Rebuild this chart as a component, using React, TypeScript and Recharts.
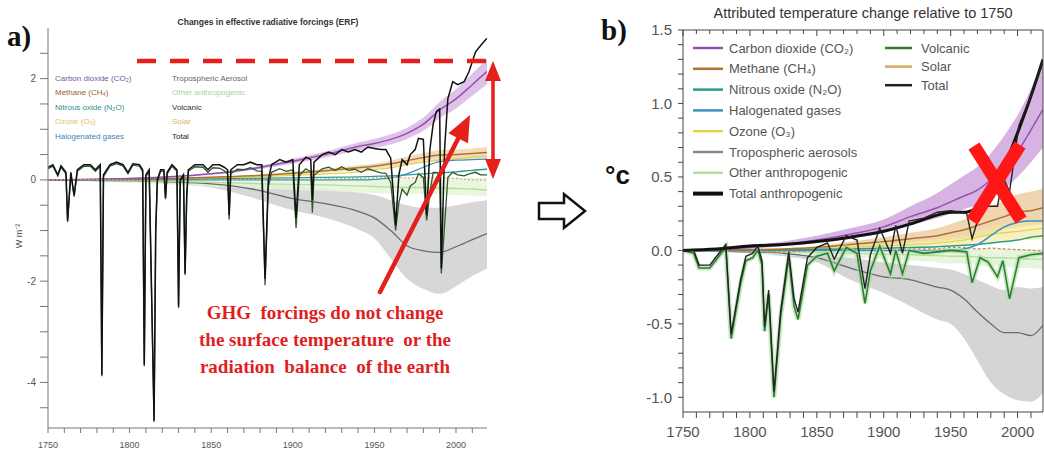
import React from "react";
import { ComposedChart, Line, Area, XAxis, YAxis } from "recharts";

// sample years for the smooth (forcing / attributed warming) curves
const smoothYears = [1750, 1775, 1800, 1825, 1850, 1875, 1900, 1920, 1940, 1950, 1960, 1970, 1980, 1990, 2000, 2010, 2019];

// a) effective radiative forcing, W m-2
const erfCO2 = [0, 0.01, 0.03, 0.06, 0.12, 0.22, 0.37, 0.5, 0.66, 0.72, 0.8, 0.92, 1.1, 1.38, 1.6, 1.88, 2.14];
const erfCO2Lo = [0, 0.01, 0.02, 0.05, 0.1, 0.19, 0.32, 0.44, 0.58, 0.63, 0.7, 0.81, 0.97, 1.22, 1.41, 1.66, 1.89];
const erfCO2Hi = [0, 0.01, 0.04, 0.07, 0.14, 0.25, 0.42, 0.56, 0.74, 0.81, 0.9, 1.03, 1.23, 1.54, 1.79, 2.1, 2.39];
const erfCH4 = [0, 0.01, 0.02, 0.03, 0.05, 0.08, 0.13, 0.18, 0.24, 0.27, 0.32, 0.38, 0.44, 0.49, 0.5, 0.52, 0.54];
const erfCH4Lo = [0, 0.01, 0.02, 0.02, 0.04, 0.06, 0.1, 0.14, 0.19, 0.22, 0.26, 0.3, 0.35, 0.39, 0.4, 0.42, 0.43];
const erfCH4Hi = [0, 0.01, 0.02, 0.04, 0.06, 0.1, 0.16, 0.22, 0.29, 0.32, 0.38, 0.46, 0.53, 0.59, 0.6, 0.62, 0.65];
const erfN2O = [0, 0, 0.01, 0.01, 0.02, 0.03, 0.04, 0.05, 0.06, 0.07, 0.08, 0.1, 0.12, 0.14, 0.16, 0.19, 0.21];
const erfHalo = [0, 0, 0, 0, 0, 0, 0, 0, 0, 0.01, 0.04, 0.12, 0.25, 0.36, 0.39, 0.4, 0.41];
const erfO3 = [0, 0.01, 0.02, 0.03, 0.04, 0.06, 0.09, 0.12, 0.16, 0.2, 0.24, 0.3, 0.35, 0.39, 0.42, 0.45, 0.47];
const erfAer = [0, -0.01, -0.02, -0.04, -0.08, -0.18, -0.37, -0.47, -0.62, -0.75, -1.0, -1.3, -1.4, -1.43, -1.32, -1.18, -1.06];
const erfAerLo = [0, -0.02, -0.04, -0.08, -0.15, -0.35, -0.6, -0.75, -0.98, -1.15, -1.55, -1.95, -2.15, -2.25, -2.1, -1.9, -1.75];
const erfAerHi = [0, 0, -0.01, -0.01, -0.03, -0.06, -0.12, -0.17, -0.25, -0.3, -0.4, -0.5, -0.55, -0.55, -0.5, -0.44, -0.4];
const erfOther = [0, -0.01, -0.02, -0.03, -0.05, -0.07, -0.09, -0.1, -0.12, -0.13, -0.14, -0.15, -0.15, -0.16, -0.17, -0.18, -0.2];
const erfOtherLo = [0, -0.03, -0.06, -0.09, -0.13, -0.17, -0.2, -0.22, -0.25, -0.26, -0.27, -0.28, -0.28, -0.29, -0.3, -0.31, -0.33];
const erfOtherHi = [0, 0.01, 0.02, 0.02, 0.02, 0.02, 0.02, 0.02, 0.02, 0.02, 0.03, 0.03, 0.04, 0.04, 0.04, 0.04, 0.04];
const erfSolar = [0, 0.01, -0.01, -0.02, 0, 0.01, 0, 0.02, 0.03, 0.04, 0.05, 0.04, 0.05, 0.04, 0.03, 0, 0];

// a) volcanic and total forcing, with the eruption years
const spikeYearsA = [
  1750, 1753, 1756, 1758, 1761, 1762, 1764, 1766, 1768, 1772, 1776, 1779, 1782, 1783, 1784, 1788, 1792, 1796, 1799,
  1802, 1806, 1808, 1809, 1810, 1812, 1815, 1816, 1817, 1819, 1821, 1822, 1823, 1826, 1829, 1830, 1831, 1833, 1834,
  1835, 1836, 1840, 1845, 1848, 1851, 1855, 1858, 1860, 1861, 1862, 1866, 1870, 1874, 1878, 1881, 1883, 1885, 1887,
  1892, 1896, 1900, 1902, 1904, 1908, 1911, 1912, 1913, 1918, 1922, 1926, 1930, 1934, 1938, 1942, 1946, 1950, 1954,
  1957, 1960, 1963, 1965, 1967, 1970, 1972, 1975, 1977, 1980, 1982, 1984, 1986, 1988, 1990, 1991, 1993, 1995, 1998,
  2001, 2005, 2008, 2012, 2015, 2019,
];
const erfTotal = [
  0.25, 0.3, 0.1, 0.28, 0.15, -0.8, 0.15, -0.3, 0.2, 0.3, 0.3, 0.2, 0.3, -3.85, 0.1, 0.3, 0.35, 0.3, 0.15,
  0.32, 0.3, 0.2, -3.65, 0.1, 0.2, -4.75, -1.0, 0.0, 0.2, 0.2, -0.35, 0.15, 0.3, 0.2, -2.5, 0.0, 0.1, -1.85,
  -0.3, 0.2, 0.3, 0.3, 0.2, 0.3, 0.3, 0.25, 0.2, -0.7, 0.2, 0.3, 0.3, 0.35, 0.3, 0.3, -1.95, 0.0, 0.3,
  0.4, 0.35, 0.4, -0.75, 0.3, 0.45, 0.4, -0.4, 0.35, 0.5, 0.55, 0.5, 0.6, 0.55, 0.6, 0.55, 0.65, 0.62, 0.6,
  0.6, 0.43, -0.9, 0.1, 0.4, 0.3, 0.5, 0.6, 0.82, 0.8, -0.7, 0.6, 1.1, 1.35, 1.4, -1.75, 0.6, 1.6, 1.94,
  1.88, 1.94, 2.14, 2.53, 2.65, 2.8,
];
const erfVolcanic = [
  0.22, 0.27, 0.08, 0.25, 0.12, -0.83, 0.12, -0.33, 0.17, 0.27, 0.27, 0.17, 0.27, -3.88, 0.07, 0.27, 0.32, 0.27, 0.12,
  0.29, 0.27, 0.17, -3.68, 0.07, 0.17, -4.78, -1.03, -0.03, 0.17, 0.17, -0.38, 0.12, 0.27, 0.17, -2.53, -0.03, 0.07, -1.88,
  -0.33, 0.17, 0.26, 0.25, 0.15, 0.24, 0.23, 0.18, 0.12, -0.78, 0.12, 0.21, 0.2, 0.24, 0.18, 0.17, -2.08, -0.14, 0.15,
  0.22, 0.17, 0.2, -0.95, 0.09, 0.22, 0.16, -0.65, 0.09, 0.22, 0.25, 0.19, 0.26, 0.19, 0.21, 0.15, 0.22, 0.18, 0.14,
  0.13, -0.05, -1.0, -0.45, -0.18, -0.3, -0.12, -0.05, 0.12, 0.05, -0.8, -0.25, 0.15, 0.15, 0.12, -1.85, -0.9, 0.05, 0.15,
  0.1, 0.08, 0.12, 0.15, 0.1, 0.1,
];

// b) attributed temperature change, degC
const tCO2 = [0, 0.005, 0.02, 0.04, 0.07, 0.11, 0.16, 0.23, 0.29, 0.33, 0.37, 0.41, 0.48, 0.56, 0.67, 0.82, 0.96];
const tCO2Lo = [0, 0.003, 0.01, 0.03, 0.05, 0.08, 0.12, 0.17, 0.22, 0.25, 0.28, 0.31, 0.36, 0.42, 0.5, 0.6, 0.7];
const tCO2Hi = [0, 0.008, 0.03, 0.06, 0.1, 0.15, 0.21, 0.3, 0.39, 0.45, 0.51, 0.57, 0.66, 0.78, 0.92, 1.1, 1.3];
const tCH4 = [0, 0.002, 0.005, 0.01, 0.02, 0.04, 0.06, 0.08, 0.1, 0.12, 0.14, 0.17, 0.2, 0.23, 0.26, 0.27, 0.29];
const tCH4Lo = [0, 0.001, 0.003, 0.006, 0.01, 0.02, 0.03, 0.05, 0.06, 0.07, 0.08, 0.1, 0.12, 0.14, 0.16, 0.17, 0.18];
const tCH4Hi = [0, 0.004, 0.008, 0.015, 0.03, 0.06, 0.09, 0.12, 0.15, 0.18, 0.21, 0.25, 0.3, 0.34, 0.38, 0.4, 0.42];
const tN2O = [0, 0, 0.002, 0.004, 0.007, 0.01, 0.015, 0.02, 0.025, 0.03, 0.035, 0.04, 0.05, 0.06, 0.07, 0.09, 0.1];
const tHalo = [0, 0, 0, 0, 0, 0, 0, 0, 0, 0.003, 0.01, 0.04, 0.1, 0.16, 0.19, 0.2, 0.2];
const tO3 = [0, 0.002, 0.005, 0.008, 0.012, 0.02, 0.03, 0.04, 0.05, 0.06, 0.07, 0.09, 0.11, 0.12, 0.13, 0.14, 0.15];
const tO3Lo = [0, 0.001, 0.002, 0.004, 0.006, 0.01, 0.015, 0.02, 0.025, 0.03, 0.035, 0.045, 0.055, 0.06, 0.065, 0.07, 0.075];
const tO3Hi = [0, 0.003, 0.008, 0.012, 0.018, 0.03, 0.045, 0.06, 0.075, 0.09, 0.1, 0.13, 0.16, 0.18, 0.19, 0.2, 0.21];
const tAer = [0, -0.005, -0.01, -0.02, -0.05, -0.12, -0.18, -0.2, -0.25, -0.27, -0.33, -0.42, -0.5, -0.56, -0.56, -0.58, -0.51];
const tAerLo = [0, -0.008, -0.02, -0.04, -0.08, -0.2, -0.29, -0.38, -0.47, -0.5, -0.6, -0.75, -0.9, -0.98, -1.02, -1.03, -0.97];
const tAerHi = [0, -0.002, -0.005, -0.01, -0.02, -0.05, -0.08, -0.1, -0.12, -0.13, -0.16, -0.2, -0.24, -0.27, -0.25, -0.26, -0.25];
const tOther = [0, -0.002, -0.005, -0.01, -0.015, -0.02, -0.025, -0.03, -0.035, -0.04, -0.04, -0.045, -0.05, -0.05, -0.055, -0.06, -0.06];
const tOtherLo = [0, -0.01, -0.02, -0.03, -0.04, -0.05, -0.06, -0.07, -0.08, -0.09, -0.09, -0.1, -0.11, -0.11, -0.12, -0.12, -0.13];
const tOtherHi = [0, 0.003, 0.005, 0.005, 0.005, 0.005, 0.005, 0.005, 0.005, 0.005, 0.01, 0.01, 0.01, 0.01, 0.01, 0.01, 0.01];
const tSolar = [0, 0.005, -0.01, -0.01, 0, 0.005, 0, 0.01, 0.01, 0.02, 0.02, 0.01, 0.015, 0.01, 0.005, 0, -0.005];
const tAnthro = [0, 0.01, 0.03, 0.04, 0.06, 0.09, 0.13, 0.18, 0.24, 0.26, 0.26, 0.29, 0.38, 0.57, 0.8, 1.05, 1.3];

// b) volcanic and total response
const spikeYearsB = [
  1750, 1758, 1762, 1770, 1776, 1782, 1786, 1793, 1797, 1802, 1806, 1809, 1811, 1814, 1818, 1823, 1829, 1833, 1836,
  1843, 1850, 1858, 1863, 1872, 1880, 1886, 1890, 1897, 1905, 1909, 1914, 1919, 1930, 1940, 1950, 1962, 1966, 1972,
  1978, 1985, 1989, 1994, 2001, 2010, 2019,
];
const tVolcanic = [
  0, -0.02, -0.12, -0.12, -0.05, 0.02, -0.6, -0.23, -0.07, -0.05, 0.0, -0.1, -0.55, -0.3, -1.0, -0.45, -0.05, -0.38, -0.47,
  -0.1, -0.04, -0.02, -0.14, 0.02, -0.02, -0.36, -0.14, 0.03, -0.16, 0.0, -0.16, 0.0, -0.02, -0.01, 0.0, -0.01, -0.22, -0.05,
  -0.08, -0.18, -0.07, -0.33, -0.05, -0.03, -0.02,
];
const tTotal = [
  0, 0.0, -0.1, -0.1, -0.03, 0.04, -0.57, -0.2, -0.04, -0.02, 0.03, -0.07, -0.52, -0.27, -0.96, -0.41, -0.01, -0.33, -0.42,
  -0.05, 0.02, 0.05, -0.06, 0.1, 0.07, -0.26, -0.03, 0.15, -0.02, 0.17, -0.02, 0.2, 0.22, 0.26, 0.27, 0.25, 0.08, 0.26,
  0.3, 0.3, 0.5, 0.4, 0.85, 1.05, 1.3,
];

const leftRows = smoothYears.map((year, i) => ({
  year,
  co2: erfCO2[i],
  co2Band: [erfCO2Lo[i], erfCO2Hi[i]],
  ch4: erfCH4[i],
  ch4Band: [erfCH4Lo[i], erfCH4Hi[i]],
  n2o: erfN2O[i],
  halo: erfHalo[i],
  o3: erfO3[i],
  aer: erfAer[i],
  aerBand: [erfAerLo[i], erfAerHi[i]],
  other: erfOther[i],
  otherBand: [erfOtherLo[i], erfOtherHi[i]],
  solar: erfSolar[i],
}));
const leftSpikeRows = spikeYearsA.map((year, i) => ({ year, total: erfTotal[i], volcanic: erfVolcanic[i] }));

const rightRows = smoothYears.map((year, i) => ({
  year,
  co2: tCO2[i],
  co2Band: [tCO2Lo[i], tCO2Hi[i]],
  ch4: tCH4[i],
  ch4Band: [tCH4Lo[i], tCH4Hi[i]],
  n2o: tN2O[i],
  halo: tHalo[i],
  o3: tO3[i],
  o3Band: [tO3Lo[i], tO3Hi[i]],
  aer: tAer[i],
  aerBand: [tAerLo[i], tAerHi[i]],
  other: tOther[i],
  otherBand: [tOtherLo[i], tOtherHi[i]],
  solar: tSolar[i],
  anthro: tAnthro[i],
}));
const rightSpikeRows = spikeYearsB.map((year, i) => ({ year, total: tTotal[i], volcanic: tVolcanic[i] }));

const yearTicks = Array.from({ length: 27 }, (_, i) => 1750 + i * 10);
const leftYTicks = Array.from({ length: 15 }, (_, i) => -4.5 + i * 0.5);
const rightYTicks = Array.from({ length: 26 }, (_, i) => Math.round((-1.0 + i * 0.1) * 10) / 10);

const C = {
  co2: "#9550b0",
  co2Band: "#c99ad9",
  ch4: "#b0722e",
  ch4Band: "#e9c58e",
  n2o: "#2b9c8c",
  halo: "#3d8fc2",
  o3: "#e6d24a",
  aer: "#6a6a6a",
  aerBand: "#d3d3d3",
  other: "#b5de9c",
  otherBand: "#e4f4d8",
  volc: "#2e7d32",
  solar: "#d4a860",
};

const sans = "'Liberation Sans', Arial, sans-serif";
const serif = "'Liberation Serif', 'Times New Roman', serif";

const yearLabel = (v: number) => (v % 50 === 0 ? String(v) : "");

function ForcingChart() {
  return (
    <ComposedChart width={500} height={457} margin={{ top: 28, right: 13, bottom: 5, left: 8 }}>
      <XAxis
        type="number"
        dataKey="year"
        domain={[1750, 2019]}
        allowDataOverflow
        ticks={yearTicks}
        interval={0}
        tickFormatter={yearLabel}
        height={24}
        tickSize={5}
        tickMargin={9}
        stroke="#777"
        tick={{ fontSize: 9, fill: "#555", fontFamily: sans }}
      />
      <YAxis
        type="number"
        domain={[-4.9, 3]}
        allowDataOverflow
        ticks={leftYTicks}
        interval={0}
        tickFormatter={(v: number) => (Number.isInteger(v) && v % 2 === 0 ? String(v) : "")}
        width={40}
        tickSize={8}
        tickMargin={4}
        stroke="#777"
        tick={{ fontSize: 10, fill: "#555", fontFamily: sans }}
      />
      <Area data={leftRows} dataKey="aerBand" type="monotone" stroke="none" fill={C.aerBand} fillOpacity={0.9} isAnimationActive={false} />
      <Area data={leftRows} dataKey="otherBand" type="monotone" stroke="none" fill={C.otherBand} fillOpacity={0.8} isAnimationActive={false} />
      <Area data={leftRows} dataKey="co2Band" type="monotone" stroke="none" fill={C.co2Band} fillOpacity={0.6} isAnimationActive={false} />
      <Area data={leftRows} dataKey="ch4Band" type="monotone" stroke="none" fill={C.ch4Band} fillOpacity={0.6} isAnimationActive={false} />
      <Line data={leftRows} dataKey="aer" type="monotone" stroke={C.aer} strokeWidth={1.3} dot={false} isAnimationActive={false} />
      <Line data={leftRows} dataKey="other" type="monotone" stroke={C.other} strokeWidth={1.3} dot={false} isAnimationActive={false} />
      <Line data={leftRows} dataKey="o3" type="monotone" stroke={C.o3} strokeWidth={1.3} dot={false} isAnimationActive={false} />
      <Line data={leftRows} dataKey="n2o" type="monotone" stroke={C.n2o} strokeWidth={1.3} dot={false} isAnimationActive={false} />
      <Line data={leftRows} dataKey="halo" type="monotone" stroke={C.halo} strokeWidth={1.3} dot={false} isAnimationActive={false} />
      <Line data={leftRows} dataKey="ch4" type="monotone" stroke={C.ch4} strokeWidth={1.5} dot={false} isAnimationActive={false} />
      <Line data={leftRows} dataKey="co2" type="monotone" stroke={C.co2} strokeWidth={1.5} dot={false} isAnimationActive={false} />
      <Line data={leftRows} dataKey="solar" type="monotone" stroke={C.solar} strokeWidth={1.2} strokeDasharray="2 2" dot={false} isAnimationActive={false} />
      <Line data={leftSpikeRows} dataKey="volcanic" type="linear" stroke="#2f5a2f" strokeWidth={1.3} dot={false} isAnimationActive={false} />
      <Line data={leftSpikeRows} dataKey="total" type="linear" stroke="#111" strokeWidth={1.5} dot={false} isAnimationActive={false} />
    </ComposedChart>
  );
}

const TopTick = (props: any) => {
  const { x, payload } = props;
  const len = payload.value % 50 === 0 ? 6 : 4;
  return <line x1={x} x2={x} y1={30} y2={30 + len} stroke="#444" strokeWidth={1} />;
};

function TemperatureChart() {
  return (
    <ComposedChart width={444} height={457} margin={{ top: 0, right: 0, bottom: 15, left: 0 }}>
      <XAxis
        type="number"
        dataKey="year"
        domain={[1750, 2019]}
        allowDataOverflow
        ticks={yearTicks}
        interval={0}
        tickFormatter={yearLabel}
        height={30}
        tickSize={6}
        tickMargin={8}
        stroke="#444"
        tick={{ fontSize: 15, fill: "#555", fontFamily: sans }}
      />
      <XAxis
        xAxisId="top"
        orientation="top"
        type="number"
        dataKey="year"
        domain={[1750, 2019]}
        allowDataOverflow
        ticks={yearTicks}
        interval={0}
        height={30}
        tickLine={false}
        stroke="#444"
        tick={<TopTick />}
      />
      <YAxis
        type="number"
        domain={[-1.1, 1.5]}
        allowDataOverflow
        ticks={rightYTicks}
        interval={0}
        tickFormatter={(v: number) => (Math.abs(v * 2 - Math.round(v * 2)) < 1e-6 ? v.toFixed(1) : "")}
        width={83}
        tickSize={5}
        tickMargin={6}
        stroke="#444"
        tick={{ fontSize: 15, fill: "#555", fontFamily: sans }}
      />
      <YAxis yAxisId="right" orientation="right" type="number" domain={[-1.1, 1.5]} width={1} tick={false} tickLine={false} stroke="#444" />
      <Area data={rightRows} dataKey="aerBand" type="monotone" stroke="none" fill={C.aerBand} fillOpacity={0.95} isAnimationActive={false} />
      <Area data={rightRows} dataKey="otherBand" type="monotone" stroke="none" fill={C.otherBand} fillOpacity={0.9} isAnimationActive={false} />
      <Area data={rightRows} dataKey="co2Band" type="monotone" stroke="none" fill={C.co2Band} fillOpacity={0.75} isAnimationActive={false} />
      <Area data={rightRows} dataKey="ch4Band" type="monotone" stroke="none" fill={C.ch4Band} fillOpacity={0.7} isAnimationActive={false} />
      <Area data={rightRows} dataKey="o3Band" type="monotone" stroke="none" fill="#f2e79a" fillOpacity={0.6} isAnimationActive={false} />
      <Line data={rightRows} dataKey="aer" type="monotone" stroke={C.aer} strokeWidth={1.3} dot={false} isAnimationActive={false} />
      <Line data={rightRows} dataKey="other" type="monotone" stroke={C.other} strokeWidth={1.3} dot={false} isAnimationActive={false} />
      <Line data={rightRows} dataKey="solar" type="monotone" stroke="#c08a4a" strokeWidth={1.2} strokeDasharray="3 2" dot={false} isAnimationActive={false} />
      <Line data={rightRows} dataKey="o3" type="monotone" stroke={C.o3} strokeWidth={1.3} dot={false} isAnimationActive={false} />
      <Line data={rightRows} dataKey="n2o" type="monotone" stroke={C.n2o} strokeWidth={1.5} dot={false} isAnimationActive={false} />
      <Line data={rightRows} dataKey="halo" type="monotone" stroke={C.halo} strokeWidth={1.5} dot={false} isAnimationActive={false} />
      <Line data={rightRows} dataKey="ch4" type="monotone" stroke={C.ch4} strokeWidth={1.5} dot={false} isAnimationActive={false} />
      <Line data={rightRows} dataKey="co2" type="monotone" stroke={C.co2} strokeWidth={1.5} dot={false} isAnimationActive={false} />
      <Line data={rightSpikeRows} dataKey="volcanic" type="linear" stroke="#a9dba0" strokeWidth={5} strokeOpacity={0.6} dot={false} isAnimationActive={false} />
      <Line data={rightSpikeRows} dataKey="volcanic" type="linear" stroke={C.volc} strokeWidth={1.6} dot={false} isAnimationActive={false} />
      <Line data={rightRows} dataKey="anthro" type="monotone" stroke="#111" strokeWidth={3} dot={false} isAnimationActive={false} />
      <Line data={rightSpikeRows} dataKey="total" type="linear" stroke="#222" strokeWidth={1.4} dot={false} isAnimationActive={false} />
    </ComposedChart>
  );
}

const leftLegend1 = [
  { label: "Carbon dioxide (CO\u2082)", color: "#7b55a0" },
  { label: "Methane (CH\u2084)", color: "#a0622b" },
  { label: "Nitrous oxide (N\u2082O)", color: "#2f8f8a" },
  { label: "Ozone (O\u2083)", color: "#e3c45e" },
  { label: "Halogenated gases", color: "#3f7fb5" },
];
const leftLegend2 = [
  { label: "Tropospheric Aerosol", color: "#666" },
  { label: "Other anthropogenic", color: "#a8d492" },
  { label: "Volcanic", color: "#333" },
  { label: "Solar", color: "#d8b070" },
  { label: "Total", color: "#222" },
];
const rightLegend1 = [
  { label: "Carbon dioxide (CO\u2082)", color: C.co2, w: 2.5 },
  { label: "Methane (CH\u2084)", color: C.ch4, w: 2.5 },
  { label: "Nitrous oxide (N\u2082O)", color: C.n2o, w: 2.5 },
  { label: "Halogenated gases", color: C.halo, w: 2.5 },
  { label: "Ozone (O\u2083)", color: C.o3, w: 2.5 },
  { label: "Tropospheric aerosols", color: "#888", w: 2.5 },
  { label: "Other anthropogenic", color: C.other, w: 2.5 },
  { label: "Total anthropogenic", color: "#111", w: 4 },
];
const rightLegend2 = [
  { label: "Volcanic", color: C.volc, w: 2.5 },
  { label: "Solar", color: C.solar, w: 2.5 },
  { label: "Total", color: "#222", w: 2.5 },
];

function arrowHead(x1: number, y1: number, x2: number, y2: number, len: number, half: number) {
  const dx = x2 - x1;
  const dy = y2 - y1;
  const d = Math.hypot(dx, dy);
  const ux = dx / d;
  const uy = dy / d;
  const bx = x2 - ux * len;
  const by = y2 - uy * len;
  return `${x2},${y2} ${bx - uy * half},${by + ux * half} ${bx + uy * half},${by - ux * half}`;
}

function Overlay() {
  const red = "#e5201c";
  return (
    <svg width={1044} height={457} style={{ position: "absolute", left: 0, top: 0, pointerEvents: "none" }}>
      {/* panel a) labels */}
      <text x={7} y={46} fontFamily={serif} fontWeight="bold" fontSize={29} fill="#111">a)</text>
      <text x={268} y={25} textAnchor="middle" fontFamily={sans} fontWeight="bold" fontSize={8.5} fill="#333">
        Changes in effective radiative forcings (ERF)
      </text>
      <text x={22} y={236} transform="rotate(-90 22 236)" textAnchor="middle" fontFamily={sans} fontSize={9} fill="#555">
        W m⁻²
      </text>
      {leftLegend1.map((d, i) => (
        <text key={d.label} x={55} y={78 + i * 14.6} dominantBaseline="central" fontFamily={sans} fontSize={8} fill={d.color}>
          {d.label}
        </text>
      ))}
      {leftLegend2.map((d, i) => (
        <text key={d.label} x={172} y={78 + i * 14.6} dominantBaseline="central" fontFamily={sans} fontSize={8} fill={d.color}>
          {d.label}
        </text>
      ))}

      {/* red annotations on a) */}
      <line x1={137} y1={61} x2={494} y2={61} stroke={red} strokeWidth={4.5} strokeDasharray="19 14" />
      <line x1={493} y1={72} x2={493} y2={166} stroke={red} strokeWidth={3.5} />
      <polygon points={arrowHead(493, 120, 493, 61, 20, 8)} fill={red} />
      <polygon points={arrowHead(493, 120, 493, 179, 20, 8)} fill={red} />
      <line x1={380} y1={292} x2={462} y2={131} stroke={red} strokeWidth={4.5} strokeLinecap="round" />
      <polygon points={arrowHead(380, 292, 470, 115, 26, 11)} fill={red} />
      {["GHG  forcings do not change", "the surface temperature  or the", "radiation  balance  of the earth"].map((t, i) => (
        <text
          key={t}
          x={325}
          y={319 + i * 27}
          textAnchor="middle"
          fontFamily={serif}
          fontWeight="bold"
          fontSize={19}
          fill="#df1f1f"
          style={{ whiteSpace: "pre" }}
        >
          {t}
        </text>
      ))}

      {/* hollow arrow between panels */}
      <polygon
        points="539,203 564,203 564,194 585,211 564,228 564,219 539,219"
        fill="#fff"
        stroke="#111"
        strokeWidth={2.5}
        strokeLinejoin="miter"
      />

      {/* panel b) labels */}
      <text x={601} y={40} fontFamily={serif} fontWeight="bold" fontSize={29} fill="#111">b)</text>
      <text x={863} y={18} textAnchor="middle" fontFamily={sans} fontSize={14.5} fill="#333">
        Attributed temperature change relative to 1750
      </text>
      <text x={605} y={184} fontFamily={sans} fontWeight="bold" fontSize={26} fill="#111">°c</text>
      {rightLegend1.map((d, i) => (
        <g key={d.label}>
          <line x1={693} x2={723} y1={48 + i * 20.8} y2={48 + i * 20.8} stroke={d.color} strokeWidth={d.w} />
          <text x={729} y={48 + i * 20.8} dominantBaseline="central" fontFamily={sans} fontSize={13} fill="#555">
            {d.label}
          </text>
        </g>
      ))}
      {rightLegend2.map((d, i) => (
        <g key={d.label}>
          <line x1={885} x2={912} y1={48 + i * 18.6} y2={48 + i * 18.6} stroke={d.color} strokeWidth={d.w} />
          <text x={921} y={48 + i * 18.6} dominantBaseline="central" fontFamily={sans} fontSize={13} fill="#555">
            {d.label}
          </text>
        </g>
      ))}

      {/* red X on b) */}
      <line x1={974} y1={146} x2={1021} y2={220} stroke="#ff1616" strokeWidth={13} />
      <line x1={1020} y1={145} x2={972} y2={221} stroke="#ff1616" strokeWidth={13} />
    </svg>
  );
}

export default function App() {
  return (
    <div style={{ position: "relative", width: 1044, height: 457, background: "#fff", overflow: "hidden" }}>
      <style>{"body{margin:0}"}</style>
      <div style={{ position: "absolute", left: 0, top: 0 }}>
        <ForcingChart />
      </div>
      <div style={{ position: "absolute", left: 600, top: 0 }}>
        <TemperatureChart />
      </div>
      <Overlay />
    </div>
  );
}
